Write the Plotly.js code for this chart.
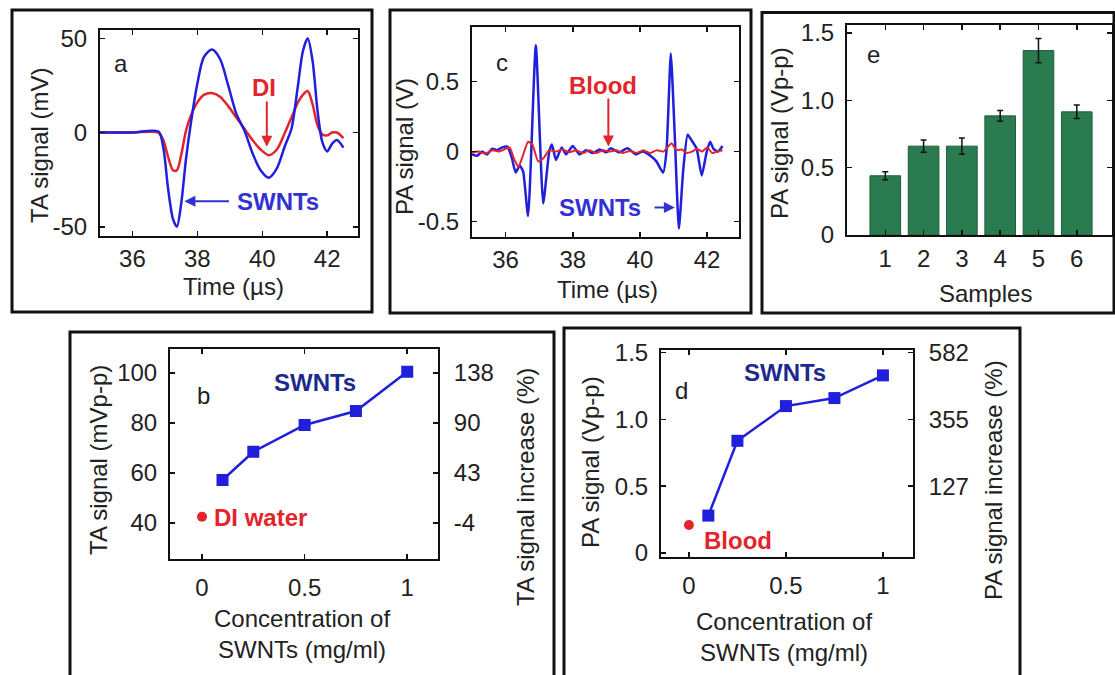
<!DOCTYPE html>
<html><head><meta charset="utf-8">
<script src="https://cdn.plot.ly/plotly-3.0.1.min.js"></script>
<style>html,body{margin:0;padding:0;background:#fff}#chart{width:1115px;height:675px}</style>
</head><body><div id="chart"></div>
<script>
// ---------- DATA ----------
// Panel a: thermoacoustic signals (mV) vs time (µs)
const timeA = [35.0, 36.0, 36.8, 36.95, 37.1, 37.25, 37.37, 37.5, 37.65, 37.8, 38.0, 38.2, 38.45, 38.7, 38.95, 39.2, 39.45, 39.7, 39.95, 40.2, 40.45, 40.7, 40.9, 41.1, 41.25, 41.4, 41.55, 41.7, 41.85, 42.0, 42.15, 42.3, 42.5];
const swntA  = [0, 0, 0.5, -8, -30, -46, -50, -38, -14, 5, 26, 40, 44, 39, 25, 10, 1, -11, -20, -24, -19, -7, 2, 25, 43, 50, 38, 12, -5, -10, -6, -4, -8];
const diA    = [0, 0, 0, -4, -13, -20, -20, -12, 1, 9, 16, 20, 21, 19, 14, 8, 2, -4, -9, -12, -9, 0, 8, 16, 20, 22, 15, 4, -1, -1.5, 0, 0, -3];

// Panel c: photoacoustic signals (V) vs time (µs)
const timeSwntC = [35.0, 35.15, 35.3, 35.45, 35.6, 35.75, 35.9, 36.05, 36.18, 36.3, 36.42, 36.52, 36.67, 36.9, 37.12, 37.3, 37.38, 37.5, 37.67, 37.8, 38.0, 38.2, 38.4, 38.6, 38.8, 39.0, 39.13, 39.38, 39.63, 39.88, 40.08, 40.34, 40.49, 40.69, 40.79, 40.92, 41.04, 41.16, 41.29, 41.42, 41.54, 41.69, 41.84, 41.99, 42.09, 42.19, 42.32, 42.46];
const swntC     = [-0.02, -0.03, 0.0, -0.02, 0.02, 0.01, 0.03, 0.035, -0.04, -0.15, -0.1, -0.14, -0.46, 0.76, -0.37, 0.0, 0.05, -0.06, 0.03, -0.02, 0.04, -0.02, 0.01, -0.01, 0.015, -0.005, 0.024, -0.006, 0.024, -0.02, 0.0, -0.035, -0.07, -0.15, 0.0, 0.70, 0.10, -0.55, -0.13, 0.12, 0.08, 0.02, -0.17, 0.0, 0.07, 0.02, 0.0, 0.04];
const timeBloodC = [35.0, 35.2, 35.4, 35.6, 35.8, 36.0, 36.12, 36.25, 36.38, 36.5, 36.67, 36.8, 36.97, 37.12, 37.3, 37.5, 37.7, 37.9, 38.1, 38.3, 38.5, 38.7, 38.9, 39.1, 39.3, 39.5, 39.7, 39.9, 40.1, 40.3, 40.5, 40.7, 40.82, 40.94, 41.09, 41.25, 41.4, 41.55, 41.7, 41.85, 42.0, 42.15, 42.3, 42.46];
const bloodC     = [-0.01, 0.0, -0.015, 0.01, 0.0, 0.02, 0.03, -0.05, -0.11, -0.04, 0.07, 0.05, -0.07, -0.05, 0.01, 0.0, 0.015, -0.005, 0.01, -0.01, 0.01, -0.01, 0.01, 0.0, 0.01, -0.01, 0.005, -0.01, 0.01, -0.01, 0.01, 0.0, 0.03, 0.06, 0.01, 0.015, -0.01, 0.0, 0.02, 0.0, 0.03, -0.01, 0.0, 0.01];

// Panel e: PA signal per sample
const samples  = [1, 2, 3, 4, 5, 6];
const paSample = [0.44, 0.66, 0.66, 0.885, 1.37, 0.915];
const paErr    = [0.03, 0.045, 0.06, 0.04, 0.09, 0.05];

// Panel b: TA signal vs SWNT concentration
const concB   = [0.1, 0.25, 0.5, 0.75, 1.0];
const taSwnt  = [57.2, 68.5, 79.2, 84.8, 100.5];
const concDI  = [0];
const taDI    = [42.5];
const taTickVals  = [40, 60, 80, 100];
const taTickText  = ['40', '60', '80', '100'];
const taPctText   = ['-4', '43', '90', '138'];

// Panel d: PA signal vs SWNT concentration
const concD    = [0.1, 0.25, 0.5, 0.75, 1.0];
const paSwnt   = [0.28, 0.84, 1.10, 1.16, 1.33];
const concBlood = [0];
const paBlood   = [0.21];
const paTickVals = [0, 0.5, 1.0, 1.5];
const paTickText = ['0', '0.5', '1.0', '1.5'];
const paPctVals  = [0.5, 1.0, 1.5];
const paPctText  = ['127', '355', '582'];

const timeTicks = [36, 38, 40, 42];
const taTimeVals = [-50, 0, 50];
const taTimeText = ['-50', '0', '50'];
const paTimeVals = [-0.5, 0, 0.5];
const paTimeText = ['-0.5', '0', '0.5'];
const concTicks = [0, 0.5, 1];
const concText = ['0', '0.5', '1'];

// ---------- STYLE ----------
const W = 1115, H = 675;
const X = p => p / W, Y = p => 1 - p / H;
const FONT = 'Liberation Sans, Arial, sans-serif';
const BLUE = '#1f1fdc', RED = '#e3242b', NAVY = '#1c2a8c', GREEN = '#2b7b50';
const FS = 24;

function axis(domain, range, extra) {
  return Object.assign({
    domain: domain, range: range, showgrid: false, zeroline: false,
    showline: true, linecolor: '#111', linewidth: 2, mirror: 'ticks',
    ticks: 'inside', ticklen: 5, tickwidth: 1.5, tickcolor: '#111',
    tickfont: {family: FONT, size: FS, color: '#222'},
    ticklabelstandoff: 6, fixedrange: true
  }, extra || {});
}

const traces = [
  // a
  {x: timeA, y: diA, xaxis: 'x', yaxis: 'y', mode: 'lines', line: {color: RED, width: 2.5, shape: 'spline', smoothing: 0.8}, hoverinfo: 'skip'},
  {x: timeA, y: swntA, xaxis: 'x', yaxis: 'y', mode: 'lines', line: {color: BLUE, width: 2.5, shape: 'spline', smoothing: 0.8}, hoverinfo: 'skip'},
  // c
  {x: timeSwntC, y: swntC, xaxis: 'x2', yaxis: 'y2', mode: 'lines', line: {color: BLUE, width: 2.5, shape: 'spline', smoothing: 0.5}, hoverinfo: 'skip'},
  {x: timeBloodC, y: bloodC, xaxis: 'x2', yaxis: 'y2', mode: 'lines', line: {color: RED, width: 2, shape: 'spline', smoothing: 0.5}, hoverinfo: 'skip'},
  // e
  {type: 'bar', x: samples, y: paSample, xaxis: 'x3', yaxis: 'y3', width: 0.8,
   marker: {color: GREEN, line: {color: '#1f5e3a', width: 1}},
   error_y: {type: 'data', array: paErr, visible: true, color: '#111', thickness: 1.5, width: 3}, hoverinfo: 'skip'},
  // b
  {x: concB, y: taSwnt, xaxis: 'x4', yaxis: 'y4', mode: 'lines+markers', line: {color: BLUE, width: 2.5},
   marker: {symbol: 'square', size: 12, color: BLUE}, hoverinfo: 'skip'},
  {x: concDI, y: taDI, xaxis: 'x4', yaxis: 'y4', mode: 'markers', marker: {symbol: 'circle', size: 10, color: RED}, hoverinfo: 'skip', cliponaxis: false},
  {x: [], y: [], xaxis: 'x4', yaxis: 'y5', mode: 'markers', hoverinfo: 'skip'},
  // d
  {x: concD, y: paSwnt, xaxis: 'x5', yaxis: 'y6', mode: 'lines+markers', line: {color: BLUE, width: 2.5},
   marker: {symbol: 'square', size: 12, color: BLUE}, hoverinfo: 'skip'},
  {x: concBlood, y: paBlood, xaxis: 'x5', yaxis: 'y6', mode: 'markers', marker: {symbol: 'circle', size: 10, color: RED}, hoverinfo: 'skip', cliponaxis: false},
  {x: [], y: [], xaxis: 'x5', yaxis: 'y7', mode: 'markers', hoverinfo: 'skip'}
];

function txt(text, x, y, xref, yref, opts) {
  return Object.assign({text: text, x: x, y: y, xref: xref, yref: yref, showarrow: false,
    font: {family: FONT, size: FS, color: '#222'}, xanchor: 'center', yanchor: 'middle'}, opts || {});
}
function arrow(x, y, ax, ay, xref, yref, color) {
  return {text: '', x: x, y: y, ax: ax, ay: ay, xref: xref, yref: yref, axref: xref, ayref: yref,
    showarrow: true, arrowhead: 2, arrowsize: 1.1, arrowwidth: 2, arrowcolor: color};
}
const bold = (c) => ({family: FONT, size: FS, color: c, weight: 'bold'});

const annotations = [
  // axis titles
  txt('TA signal (mV)', X(40), Y(145), 'paper', 'paper', {textangle: -90}),
  txt('Time (µs)', X(233), Y(286), 'paper', 'paper'),
  txt('PA signal (V)', X(405), Y(147), 'paper', 'paper', {textangle: -90}),
  txt('Time (µs)', X(607), Y(290), 'paper', 'paper'),
  txt('PA signal (Vp-p)', X(780), Y(133), 'paper', 'paper', {textangle: -90}),
  txt('Samples', X(985), Y(293), 'paper', 'paper'),
  txt('TA signal (mVp-p)', X(98), Y(460), 'paper', 'paper', {textangle: -90}),
  txt('TA signal increase (%)', X(525), Y(487), 'paper', 'paper', {textangle: -90}),
  txt('Concentration of<br>SWNTs (mg/ml)', X(302), Y(634), 'paper', 'paper'),
  txt('PA signal (Vp-p)', X(590), Y(462), 'paper', 'paper', {textangle: -90}),
  txt('PA signal increase (%)', X(993), Y(480), 'paper', 'paper', {textangle: -90}),
  txt('Concentration of<br>SWNTs (mg/ml)', X(784), Y(637), 'paper', 'paper'),
  // panel a
  txt('a', 35.65, 36.4, 'x', 'y'),
  txt('DI', 40.04, 24, 'x', 'y', {font: bold(RED)}),
  arrow(40.14, -7.5, 40.14, 17.2, 'x', 'y', RED),
  txt('SWNTs', 40.47, -36.4, 'x', 'y', {font: bold('#3232d2')}),
  arrow(37.6, -36.4, 39.02, -36.4, 'x', 'y', '#3232d2'),
  // panel c
  txt('c', 35.9, 0.64, 'x2', 'y2'),
  txt('Blood', 38.91, 0.47, 'x2', 'y2', {font: bold(RED)}),
  arrow(39.06, 0.036, 39.06, 0.39, 'x2', 'y2', RED),
  txt('SWNTs', 38.8, -0.40, 'x2', 'y2', {font: bold('#3232d2')}),
  arrow(41.04, -0.40, 40.39, -0.40, 'x2', 'y2', '#3232d2'),
  // panel e
  txt('e', 0.68, 1.34, 'x3', 'y3'),
  // panel b
  txt('b', 0.005, 91.2, 'x4', 'y4'),
  txt('SWNTs', 0.55, 96.4, 'x4', 'y4', {font: bold(NAVY)}),
  txt('DI water', 0.047, 42.4, 'x4', 'y4', {font: bold(RED), xanchor: 'left'}),
  // panel d
  txt('d', -0.036, 1.216, 'x5', 'y6'),
  txt('SWNTs', 0.495, 1.35, 'x5', 'y6', {font: bold(NAVY)}),
  txt('Blood', 0.065, 0.097, 'x5', 'y6', {font: bold(RED), xanchor: 'left'})
];

function frame(x0, y0, x1, y1) {
  return {type: 'rect', xref: 'paper', yref: 'paper', x0: X(x0), x1: X(x1), y0: Y(y1), y1: Y(y0),
    line: {color: '#111', width: 3}, fillcolor: 'rgba(0,0,0,0)', layer: 'above'};
}
const shapes = [
  frame(12, 10, 372, 312),
  frame(390, 10, 751, 313),
  frame(762, 12.5, 1114, 313),
  frame(70, 332, 554, 700),
  frame(564, 328, 1020, 700)
];

const layout = {
  width: W, height: H, margin: {l: 0, r: 0, t: 0, b: 0},
  paper_bgcolor: '#fff', plot_bgcolor: '#fff', showlegend: false,
  font: {family: FONT, size: FS, color: '#222'},
  // a
  xaxis: axis([X(100), X(358)], [35, 42.95], {anchor: 'y', tickvals: timeTicks, ticklabelstandoff: 0}),
  yaxis: axis([Y(236), Y(30)], [-54.9, 54.4], {anchor: 'x', tickvals: taTimeVals, ticktext: taTimeText}),
  // c
  xaxis2: axis([X(472), X(739)], [35, 42.95], {anchor: 'y2', tickvals: timeTicks, ticklabelstandoff: 0}),
  yaxis2: axis([Y(237), Y(27)], [-0.61, 0.89], {anchor: 'x2', tickvals: paTimeVals, ticktext: paTimeText}),
  // e
  xaxis3: axis([X(847), X(1112)], [0, 6.92], {anchor: 'y3', tickvals: samples, ticklabelstandoff: 1}),
  yaxis3: axis([Y(235), Y(25)], [0, 1.56], {anchor: 'x3', tickvals: paTickVals, ticktext: paTickText}),
  // b
  xaxis4: axis([X(170), X(438)], [-0.156, 1.15], {anchor: 'y4', tickvals: concTicks, ticktext: concText}),
  yaxis4: axis([Y(559), Y(349)], [25.6, 109.6], {anchor: 'x4', tickvals: taTickVals, ticktext: taTickText, mirror: false}),
  yaxis5: axis([Y(559), Y(349)], [25.6, 109.6], {anchor: 'x4', overlaying: 'y4', side: 'right', tickvals: taTickVals, ticktext: taPctText, mirror: false, ticklabelstandoff: 9}),
  // d
  xaxis5: axis([X(661), X(913)], [-0.144, 1.155], {anchor: 'y6', tickvals: concTicks, ticktext: concText}),
  yaxis6: axis([Y(557), Y(350)], [-0.03, 1.52], {anchor: 'x5', tickvals: paTickVals, ticktext: paTickText, mirror: false}),
  yaxis7: axis([Y(557), Y(350)], [-0.03, 1.52], {anchor: 'x5', overlaying: 'y6', side: 'right', tickvals: paPctVals, ticktext: paPctText, mirror: false, ticklabelstandoff: 9}),
  annotations: annotations,
  shapes: shapes
};

Plotly.newPlot('chart', traces, layout, {staticPlot: true, displayModeBar: false});
</script>
</body></html>
